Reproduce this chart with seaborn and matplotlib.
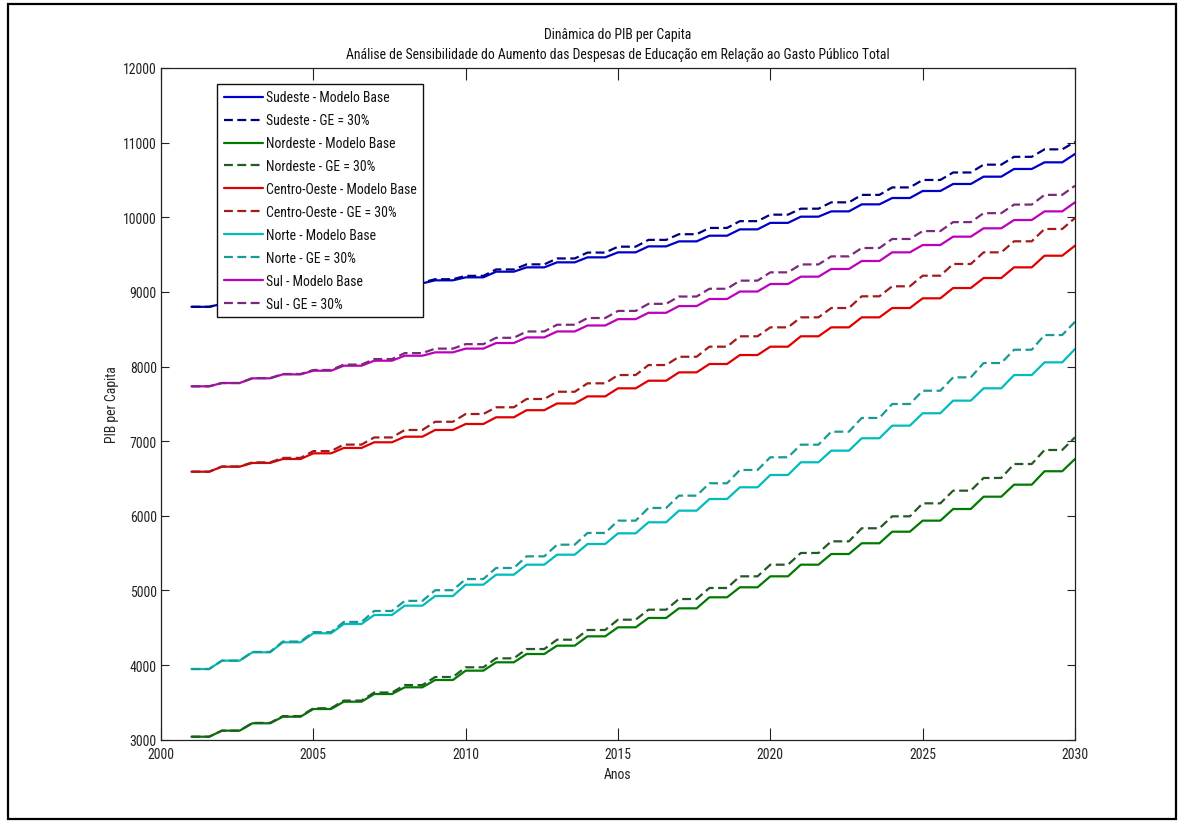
import matplotlib
matplotlib.use("Agg")
import matplotlib.pyplot as plt
import matplotlib.patches as mpatches
from matplotlib import font_manager
import seaborn as sns
import pandas as pd

# ---------------- data ----------------
years = list(range(2001, 2031))

sudeste_base = [8800, 8840, 8880, 8925, 8970, 9015, 9065, 9115, 9155, 9195,
                9271, 9329, 9396, 9463, 9530, 9610, 9677, 9753, 9838, 9925,
                10008, 10079, 10173, 10258, 10352, 10446, 10544, 10647, 10736, 10848]
sudeste_ge30 = [8800, 8840, 8882, 8928, 8975, 9023, 9075, 9127, 9170, 9215,
                9301, 9369, 9448, 9527, 9606, 9697, 9773, 9857, 9948, 10035,
                10115, 10200, 10300, 10400, 10500, 10600, 10705, 10810, 10910, 11010]
nordeste_base = [3040, 3121, 3220, 3308, 3411, 3509, 3612, 3702, 3800, 3925,
                 4037, 4148, 4260, 4385, 4506, 4631, 4760, 4908, 5042, 5189,
                 5345, 5488, 5632, 5787, 5935, 6091, 6256, 6417, 6597, 6761]
nordeste_ge30 = [3040, 3121, 3225, 3316, 3421, 3524, 3632, 3732, 3840, 3970,
                 4090, 4215, 4340, 4470, 4608, 4742, 4885, 5033, 5189, 5345,
                 5502, 5658, 5833, 5993, 6167, 6337, 6507, 6694, 6882, 7052]
centro_base = [6591, 6658, 6708, 6761, 6837, 6909, 6985, 7060, 7150, 7230,
               7320, 7415, 7505, 7600, 7708, 7810, 7922, 8034, 8154, 8266,
               8405, 8525, 8659, 8784, 8914, 9052, 9186, 9329, 9485, 9619]
centro_ge30 = [6591, 6661, 6716, 6776, 6867, 6954, 7050, 7150, 7260, 7364,
               7454, 7565, 7662, 7775, 7886, 8020, 8131, 8266, 8405, 8525,
               8659, 8784, 8941, 9075, 9217, 9374, 9530, 9678, 9843, 9990]
norte_base = [3947, 4059, 4171, 4305, 4426, 4550, 4671, 4796, 4925, 5077,
              5211, 5345, 5479, 5622, 5765, 5913, 6069, 6225, 6382, 6547,
              6717, 6873, 7039, 7208, 7374, 7543, 7708, 7886, 8056, 8235]
norte_ge30 = [3947, 4059, 4176, 4315, 4441, 4578, 4725, 4860, 5003, 5153,
              5301, 5457, 5613, 5770, 5935, 6105, 6270, 6436, 6614, 6784,
              6953, 7127, 7311, 7498, 7676, 7855, 8047, 8225, 8422, 8600]
sul_base = [7735, 7779, 7842, 7895, 7944, 8011, 8078, 8145, 8190, 8240,
            8315, 8390, 8470, 8550, 8635, 8720, 8810, 8905, 9005, 9106,
            9204, 9307, 9414, 9530, 9628, 9740, 9852, 9963, 10079, 10200]
sul_ge30 = [7735, 7779, 7845, 7900, 7954, 8026, 8100, 8180, 8240, 8300,
            8385, 8470, 8560, 8650, 8745, 8840, 8938, 9042, 9151, 9262,
            9368, 9476, 9588, 9709, 9815, 9935, 10055, 10170, 10300, 10423]

labels = ["Sudeste - Modelo Base", "Sudeste - GE = 30%",
          "Nordeste - Modelo Base", "Nordeste - GE = 30%",
          "Centro-Oeste - Modelo Base", "Centro-Oeste - GE = 30%",
          "Norte - Modelo Base", "Norte - GE = 30%",
          "Sul - Modelo Base", "Sul - GE = 30%"]
series = [sudeste_base, sudeste_ge30, nordeste_base, nordeste_ge30,
          centro_base, centro_ge30, norte_base, norte_ge30, sul_base, sul_ge30]

title_line1 = "Dinâmica do PIB per Capita"
title_line2 = "Análise de Sensibilidade do Aumento das Despesas de Educação em Relação ao Gasto Público Total"
x_label = "Anos"
y_label = "PIB per Capita"
x_ticks = [2000, 2005, 2010, 2015, 2020, 2025, 2030]
y_ticks = [3000, 4000, 5000, 6000, 7000, 8000, 9000, 10000, 11000, 12000]

# ---------------- styles ----------------
colors = ["#0000c8", "#00007e",
          "#007a00", "#245a24",
          "#e00000", "#a01c1c",
          "#00bcbc", "#1a9a94",
          "#bc00bc", "#7a2a7a"]
HOLD = 0.58  # fraction of the year each value is held before the change

def stepped(xs, vs, hold=HOLD):
    px, py = [], []
    for i, (x, v) in enumerate(zip(xs, vs)):
        px.append(x); py.append(v)
        if i < len(xs) - 1:
            px.append(x + hold); py.append(v)
    return px, py

sns.set_style("white")

# pick a narrow sans font if one is installed
narrow = None
for f in font_manager.fontManager.ttflist:
    fn = f.fname.lower()
    if ("narrow" in fn or "condensed" in fn) and "bold" not in fn and "italic" not in fn \
            and "oblique" not in fn and "light" not in fn:
        narrow = f
        if "liberationsansnarrow" in fn.replace("-", "").replace("_", ""):
            break
if narrow is not None:
    plt.rcParams["font.family"] = [narrow.name, "DejaVu Sans"]
    plt.rcParams["font.stretch"] = narrow.stretch
else:
    plt.rcParams["font.family"] = ["Liberation Sans", "DejaVu Sans"]

fig = plt.figure(figsize=(11.84, 8.28), dpi=100)
fig.patch.set_facecolor("white")

# size the text so that the subtitle spans about as wide as in the reference
renderer = fig.canvas.get_renderer()
probe = fig.text(0, 0, title_line2, fontsize=10)
w10 = probe.get_window_extent(renderer).width
probe.remove()
FS = min(10.5, 10 * 543.0 / w10)
plt.rcParams["font.size"] = FS
px_per_em = FS * 100 / 72.0

ax = fig.add_axes([161 / 1184, 1 - 740.7 / 828, (1075 - 161) / 1184, (740.7 - 69) / 828])

for i, (vals, lab) in enumerate(zip(series, labels)):
    px, py = stepped(years, vals)
    df = pd.DataFrame({"x": px, "y": py})
    dashed = (i % 2 == 1)
    sns.lineplot(data=df, x="x", y="y", ax=ax, color=colors[i], label=lab,
                 estimator=None, sort=False, linewidth=1.6,
                 **({"linestyle": (0, (4, 2))} if dashed else {}))

ax.set_xlim(2000, 2030)
ax.set_ylim(3000, 12000)
ax.set_xticks(x_ticks)
ax.set_yticks(y_ticks)
ax.set_xticklabels([str(t) for t in x_ticks])
ax.set_yticklabels([str(t) for t in y_ticks])
ax.tick_params(axis="x", direction="in", length=8.6, width=0.8, top=True, bottom=True,
               pad=5.4, colors="#222222", labelsize=FS)
ax.tick_params(axis="y", direction="in", length=6, width=0.8, left=True, right=True,
               pad=3, colors="#222222", labelsize=FS)
for s in ax.spines.values():
    s.set_visible(True)
    s.set_color("#222222")
    s.set_linewidth(0.9)

ax.set_xlabel(x_label, fontsize=FS, labelpad=4, color="#222222")
ax.set_ylabel(y_label, fontsize=FS, labelpad=3, color="#222222")
ax.set_title(title_line1 + "\n" + title_line2, fontsize=FS, pad=7.5, linespacing=1.45,
             color="#111111")

# legend geometry from the reference, in pixels converted to em units
entry_step_px = 22.7
leg = ax.legend(loc="upper left", bbox_to_anchor=((217 - 161) / 914, (740.7 - 85) / 671.7),
                borderaxespad=0, frameon=True, fancybox=False, framealpha=1,
                edgecolor="#111111", fontsize=FS, handlelength=39 / px_per_em,
                handletextpad=3 / px_per_em,
                labelspacing=entry_step_px / px_per_em - 1.0, borderpad=6.5 / px_per_em)
leg.get_frame().set_linewidth(1.0)
for t in leg.get_texts():
    t.set_color("#111111")

# outer border around the image
fig.patches.append(mpatches.Rectangle((8 / 1184, 1 - 820 / 828), (1176 - 8) / 1184, (820 - 5) / 828,
                                      transform=fig.transFigure, fill=False,
                                      edgecolor="black", linewidth=1.6))

fig.savefig("out.png", dpi=100, facecolor="white")
